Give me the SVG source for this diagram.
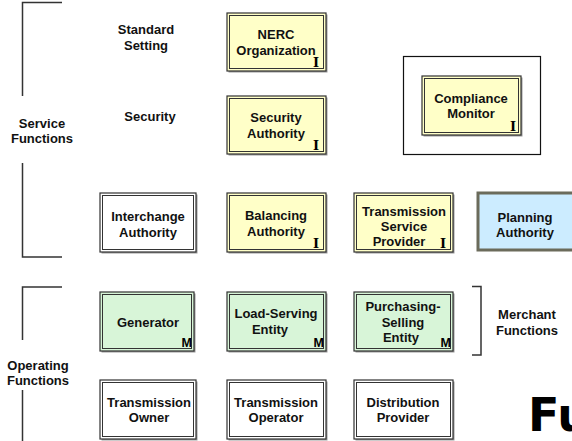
<svg xmlns="http://www.w3.org/2000/svg" width="572" height="441" viewBox="0 0 572 441">
<style>
  text { font-family: "Liberation Sans", Arial, sans-serif; font-weight: bold; font-size: 13px; fill: #111; text-anchor: middle; }
  .shadow { fill: #9a9a9a; }
  .outer { stroke: #333; stroke-width: 1.2; }
  .inner { fill: none; stroke: #333; stroke-width: 1; }
  .yel { fill: #FFFFC8; }
  .grn { fill: #D8F5D8; }
  .wht { fill: #FFFFFF; }
  .blu { fill: #CCECFF; stroke: #6B6B5B; stroke-width: 3; }
  .br { fill: none; stroke: #333; stroke-width: 1.5; }
  .tagI { font-family: "DejaVu Serif", "Liberation Serif", serif; font-size: 13px; font-weight: bold; fill: #000; }
  .tagM { font-size: 12.5px; text-anchor: end; fill: #000; }
  .big { font-family: "DejaVu Sans", sans-serif; font-size: 46px; text-anchor: start; fill: #000; }
</style>

<g id="connectors">
  <path class="br" d="M62,2.5 H22.5 V96"/>
  <path class="br" d="M22.5,163 V257 H62"/>
  <path class="br" d="M62,287 H22.5 V340"/>
  <path class="br" d="M22.5,390 V441"/>
  <path class="br" d="M472,286.5 H481 V355 H472"/>
  <rect x="403.5" y="56.5" width="137" height="98" fill="none" stroke="#111" stroke-width="1.2"/>
</g>

<g id="labels">
  <text x="146" y="33.5">Standard</text>
  <text x="146" y="49.5">Setting</text>
  <text x="150" y="120.5">Security</text>
  <text x="42" y="127.5">Service</text>
  <text x="42" y="143">Functions</text>
  <text x="38" y="369.5">Operating</text>
  <text x="38" y="385">Functions</text>
  <text x="527" y="318.5">Merchant</text>
  <text x="527" y="334.5">Functions</text>
  <text class="big" x="528" y="431">Fu</text>
</g>

<g id="nerc">
  <rect class="shadow" x="228.5" y="14.5" width="99" height="58"/>
  <rect class="outer yel" x="227" y="13" width="99" height="58"/>
  <rect class="inner" x="229.5" y="15.5" width="94" height="53"/>
  <text x="276" y="39">NERC</text>
  <text x="276" y="55">Organization</text>
  <text class="tagI" x="316" y="67">I</text>
</g>

<g id="security-authority">
  <rect class="shadow" x="228.5" y="97.5" width="99" height="58"/>
  <rect class="outer yel" x="227" y="96" width="99" height="58"/>
  <rect class="inner" x="229.5" y="98.5" width="94" height="53"/>
  <text x="276" y="122">Security</text>
  <text x="276" y="138">Authority</text>
  <text class="tagI" x="316" y="150">I</text>
</g>

<g id="compliance-monitor">
  <rect class="shadow" x="423.5" y="77.5" width="99" height="59"/>
  <rect class="outer yel" x="422" y="76" width="99" height="59"/>
  <rect class="inner" x="424.5" y="78.5" width="94" height="54"/>
  <text x="471" y="102.5">Compliance</text>
  <text x="471" y="118">Monitor</text>
  <text class="tagI" x="513" y="131">I</text>
</g>

<g id="interchange-authority">
  <rect class="shadow" x="101.5" y="194.5" width="96" height="59"/>
  <rect class="outer wht" x="100" y="193" width="96" height="59"/>
  <rect class="inner" x="102.5" y="195.5" width="91" height="54"/>
  <text x="148" y="220.5">Interchange</text>
  <text x="148" y="236.5">Authority</text>
</g>

<g id="balancing-authority">
  <rect class="shadow" x="228.5" y="194.5" width="99" height="59"/>
  <rect class="outer yel" x="227" y="193" width="99" height="59"/>
  <rect class="inner" x="229.5" y="195.5" width="94" height="54"/>
  <text x="276" y="219.5">Balancing</text>
  <text x="276" y="235.5">Authority</text>
  <text class="tagI" x="316" y="248">I</text>
</g>

<g id="transmission-service-provider">
  <rect class="shadow" x="355.5" y="194.5" width="99" height="59"/>
  <rect class="outer yel" x="354" y="193" width="99" height="59"/>
  <rect class="inner" x="356.5" y="195.5" width="94" height="54"/>
  <text x="404" y="215.5">Transmission</text>
  <text x="404" y="230.5">Service</text>
  <text x="399" y="245.5">Provider</text>
  <text class="tagI" x="443" y="248">I</text>
</g>

<g id="planning-authority">
  <rect class="blu" x="478" y="193" width="98" height="57"/>
  <text x="525" y="221.5">Planning</text>
  <text x="525" y="236.5">Authority</text>
</g>

<g id="generator">
  <rect class="shadow" x="101.5" y="293.5" width="94" height="59"/>
  <rect class="outer grn" x="100" y="292" width="94" height="59"/>
  <rect class="inner" x="102.5" y="294.5" width="89" height="54"/>
  <text x="148" y="326.5">Generator</text>
  <text class="tagM" x="192" y="346.5">M</text>
</g>

<g id="load-serving-entity">
  <rect class="shadow" x="228.5" y="293.5" width="99" height="59"/>
  <rect class="outer grn" x="227" y="292" width="99" height="59"/>
  <rect class="inner" x="229.5" y="294.5" width="94" height="54"/>
  <text x="276" y="317.5">Load-Serving</text>
  <text x="270" y="333.5">Entity</text>
  <text class="tagM" x="324" y="346.5">M</text>
</g>

<g id="purchasing-selling-entity">
  <rect class="shadow" x="355.5" y="293.5" width="99" height="59"/>
  <rect class="outer grn" x="354" y="292" width="99" height="59"/>
  <rect class="inner" x="356.5" y="294.5" width="94" height="54"/>
  <text x="403" y="310.5">Purchasing-</text>
  <text x="403" y="326.5">Selling</text>
  <text x="401" y="342">Entity</text>
  <text class="tagM" x="451" y="346.5">M</text>
</g>

<g id="transmission-owner">
  <rect class="shadow" x="101.5" y="381.5" width="96" height="59"/>
  <rect class="outer wht" x="100" y="380" width="96" height="59"/>
  <rect class="inner" x="102.5" y="382.5" width="91" height="54"/>
  <text x="149" y="406.5">Transmission</text>
  <text x="149" y="421.5">Owner</text>
</g>

<g id="transmission-operator">
  <rect class="shadow" x="228.5" y="381.5" width="99" height="59"/>
  <rect class="outer wht" x="227" y="380" width="99" height="59"/>
  <rect class="inner" x="229.5" y="382.5" width="94" height="54"/>
  <text x="276" y="406.5">Transmission</text>
  <text x="276" y="421.5">Operator</text>
</g>

<g id="distribution-provider">
  <rect class="shadow" x="355.5" y="381.5" width="99" height="59"/>
  <rect class="outer wht" x="354" y="380" width="99" height="59"/>
  <rect class="inner" x="356.5" y="382.5" width="94" height="54"/>
  <text x="403" y="406.5">Distribution</text>
  <text x="403" y="421.5">Provider</text>
</g>
</svg>
